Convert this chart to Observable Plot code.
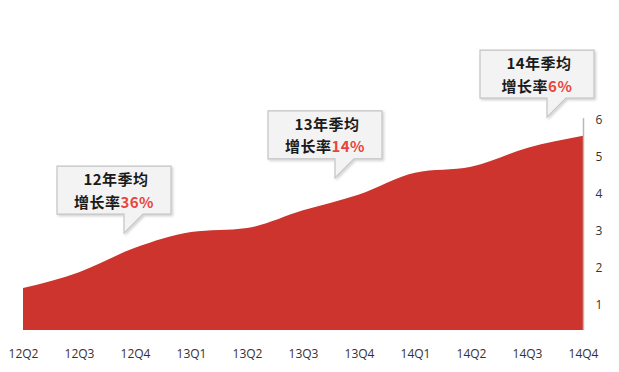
<!DOCTYPE html>
<html>
<head>
<meta charset="utf-8">
<script src="https://cdn.jsdelivr.net/npm/d3@7"></script>
<script src="https://cdn.jsdelivr.net/npm/@observablehq/plot@0.6"></script>
<style>
  html, body { margin: 0; padding: 0; background: #ffffff; }
  #chart svg { display: block; }
</style>
</head>
<body>
<div id="chart"></div>
<script>
// ---- data ----
const quarters = ["12Q2","12Q3","12Q4","13Q1","13Q2","13Q3","13Q4","14Q1","14Q2","14Q3","14Q4"];
const values   = [1.44, 1.87, 2.53, 2.96, 3.07, 3.55, 3.98, 4.57, 4.73, 5.24, 5.57];
const yTicks   = [1, 2, 3, 4, 5, 6];
const calloutAt    = ["12Q4", "13Q4", "14Q3"];
const calloutValue = [2.93, 4.43, 6.08];
const calloutShift = [-11, -24, 20];
const calloutYear  = ["12年季均", "13年季均", "14年季均"];
const calloutRate  = ["36%", "14%", "6%"];

const baseValue = 0.3;
const rows = quarters.map((q, i) => ({q, v: values[i]}));

const plot = Plot.plot({
  width: 619,
  height: 372,
  marginLeft: 21,
  marginRight: 34,
  marginTop: 120,
  marginBottom: 42,
  style: {background: "#ffffff", fontFamily: "'Open Sans', sans-serif"},
  x: {type: "point", domain: quarters, padding: 0},
  y: {domain: [baseValue, 6]},
  marks: [
    Plot.areaY(rows, {x: "q", y1: baseValue, y2: "v", curve: "monotone-x", fill: "#cc342d"}),
    Plot.ruleX(["14Q4"], {y1: baseValue, y2: 6.05, stroke: "#b8b8b8", strokeWidth: 1.5}),
    Plot.axisY({anchor: "right", ticks: yTicks, tickFormat: "d", tickSize: 0, tickPadding: 10, fontSize: 12, color: "#333", label: null}),
    Plot.axisX({tickSize: 0, tickPadding: 19, fontSize: 12, color: "#333", label: null})
  ]
});
document.getElementById("chart").appendChild(plot);

// ---- callouts anchored to the chart's scales ----
const xs = plot.scale("x"), ys = plot.scale("y");
const svg = d3.select(plot);
const defs = svg.append("defs");
const f = defs.append("filter").attr("id", "shadow").attr("x", "-10%").attr("y", "-10%").attr("width", "130%").attr("height", "140%");
f.append("feDropShadow").attr("dx", 1.5).attr("dy", 1.5).attr("stdDeviation", 1.2).attr("flood-color", "#000").attr("flood-opacity", 0.18);

calloutAt.forEach((q, i) => {
  const tx = xs.apply(q) + calloutShift[i];
  const ty = ys.apply(calloutValue[i]);
  const L = tx - 67, R = tx + 47, T = ty - 67, B = ty - 19;
  const path = `M${L},${T}H${R}V${B}H${tx + 19}L${tx},${ty}V${B}H${L}Z`;
  const g = svg.append("g");
  g.append("path").attr("d", path)
    .attr("fill", "#f3f3f3").attr("stroke", "#c4c4c4").attr("stroke-width", 1.2)
    .attr("filter", "url(#shadow)");
  const cx = (L + R) / 2 + 2;
  const t = g.append("text").attr("text-anchor", "middle")
    .attr("font-family", "'Noto Sans CJK SC', sans-serif").attr("font-weight", "bold")
    .attr("font-size", 15).attr("letter-spacing", 0.5).attr("fill", "#1a1a1a");
  t.append("tspan").attr("x", cx).attr("y", T + 19).text(calloutYear[i]);
  t.append("tspan").attr("x", cx - 2).attr("y", T + 41.5).text("增长率")
    .append("tspan").attr("fill", "#e8453c").text(calloutRate[i]);
});
</script>
</body>
</html>
